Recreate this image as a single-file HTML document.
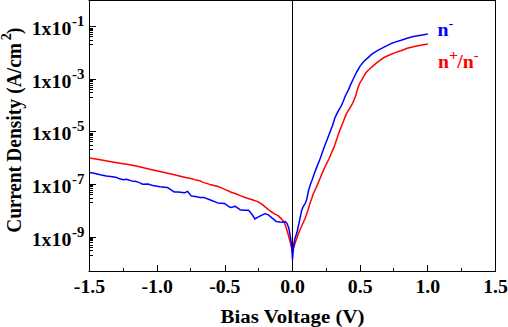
<!DOCTYPE html>
<html><head><meta charset="utf-8"><style>
html,body{margin:0;padding:0;background:#fff;overflow:hidden;width:508px;height:327px;}
svg{display:block;}
text{font-family:"Liberation Serif",serif;font-weight:bold;font-size:18px;fill:#000;}
.sup{font-size:14.5px;}
</style></head><body>
<svg width="508" height="327" viewBox="0 0 508 327">
<rect x="0" y="0" width="508" height="327" fill="#fff"/>
<path d="M292.5,0V272" stroke="#000" stroke-width="1" fill="none"/>
<polyline points="89.5,158.0 100.2,159.8 112.5,161.9 120.0,163.2 129.8,164.8 138.3,166.6 145.7,168.2 153.0,169.9 160.0,171.4 172.2,174.2 184.5,177.2 193.0,179.1 196.0,180.1 199.7,180.7 202.4,182.1 209.8,184.4 217.1,186.2 220.8,187.6 226.0,189.9 231.2,192.3 235.8,193.7 240.3,195.6 245.9,197.8 252.2,199.8 257.2,201.4 261.8,204.2 266.3,207.8 270.9,211.5 275.5,214.3 278.1,215.6 281.4,218.9 284.2,222.2 286.4,228.3 288.0,233.8 289.7,240.0 292.4,251.0 297.9,235.0 299.8,230.2 302.5,224.3 305.0,218.8 308.0,210.0 310.1,202.9 311.8,198.3 313.3,193.8 315.4,189.2 317.5,184.6 319.4,180.0 323.3,170.6 329.2,158.3 334.4,146.1 336.5,140.0 339.7,130.6 341.6,126.0 344.3,118.9 346.6,113.4 349.9,107.9 352.6,103.3 354.2,99.5 355.5,96.3 357.0,91.0 358.8,85.5 360.2,82.3 362.0,79.6 363.8,76.2 366.1,72.5 369.3,69.3 372.9,66.1 376.6,62.9 380.0,60.4 384.5,57.2 390.6,54.5 396.0,52.4 401.1,50.7 407.2,48.2 413.3,46.8 419.5,45.4 427.8,44.0" fill="none" stroke="#f00" stroke-width="1.5" stroke-linejoin="round"/>
<polyline points="89.5,172.6 94.1,173.2 100.2,174.7 106.3,175.9 112.5,176.7 116.5,177.4 118.5,178.4 123.5,179.7 126.3,179.3 131.8,180.9 136.3,181.6 140.0,182.9 142.8,184.3 148.0,184.0 153.0,185.6 160.0,186.7 167.3,187.4 174.1,191.9 178.3,191.9 184.5,192.8 187.5,191.3 191.2,195.9 195.5,196.6 200.0,197.5 204.3,197.6 209.8,199.8 217.7,202.9 224.5,203.4 229.4,207.0 231.8,207.4 234.9,206.2 240.0,209.7 243.7,210.2 248.6,210.2 252.1,214.4 254.9,219.0 257.5,217.4 259.9,216.1 265.0,213.6 268.2,214.7 271.9,217.9 276.4,221.6 280.0,222.0 282.3,222.2 285.1,221.5 286.9,223.3 288.7,227.8 289.6,232.3 290.6,237.9 291.5,244.0 292.5,259.5 293.8,244.0 295.1,237.9 297.0,232.3 298.5,225.5 300.0,218.3 301.6,210.8 303.0,206.9 305.3,203.3 306.7,199.6 307.6,195.0 308.9,189.2 310.4,184.6 312.1,180.0 315.4,170.6 320.3,158.3 324.6,146.1 327.0,140.0 330.6,130.6 332.4,126.0 335.2,117.1 337.9,111.6 341.1,106.1 343.4,101.0 345.3,96.0 348.3,90.1 350.6,84.6 352.8,80.0 356.4,72.5 360.1,66.1 363.8,61.5 368.3,57.4 372.2,53.9 378.3,50.2 384.5,46.9 390.6,43.8 395.0,42.1 401.1,40.3 407.2,38.2 413.3,36.6 419.5,35.4 427.8,33.9" fill="none" stroke="#00f" stroke-width="1.5" stroke-linejoin="round"/>
<path d="M89,26.5H96M89,28.5H93M89,29.5H93M89,30.5H93M89,32.5H93M89,34.5H93M89,36.5H93M89,40.5H93M89,44.5H93M89,79.5H96M89,80.5H93M89,81.5H93M89,83.5H93M89,85.5H93M89,87.5H93M89,89.5H93M89,92.5H93M89,97.5H93M89,131.5H96M89,133.5H93M89,134.5H93M89,135.5H93M89,137.5H93M89,139.5H93M89,141.5H93M89,145.5H93M89,149.5H93M89,184.5H96M89,185.5H93M89,186.5H93M89,188.5H93M89,190.5H93M89,192.5H93M89,194.5H93M89,198.5H93M89,202.5H93M89,237.5H96M89,238.5H93M89,239.5H93M89,240.5H93M89,242.5H93M89,245.5H93M89,247.5H93M89,250.5H93M89,255.5H93M123.5,272V268M157.5,272V265M190.5,272V268M225.5,272V265M258.5,272V268M326.5,272V268M360.5,272V265M393.5,272V268M427.5,272V265M461.5,272V268" stroke="#000" stroke-width="1" fill="none"/>
<path d="M88.5,0.5H496M0,0" stroke="#000" stroke-width="1" fill="none"/>
<path d="M88.5,271.5H496" stroke="#000" stroke-width="1" fill="none"/>
<path d="M89.5,0V272M495.5,0V272" stroke="#000" stroke-width="1" fill="none"/>
<g transform="translate(31.7,35) scale(1.1,1)"><text x="0" y="0">1x10</text><g transform="translate(36.599999999999994,-9) scale(0.93,1)"><text x="0" y="0" class="sup">-1</text></g></g>
<g transform="translate(31.7,87.6) scale(1.1,1)"><text x="0" y="0">1x10</text><g transform="translate(36.599999999999994,-9) scale(0.93,1)"><text x="0" y="0" class="sup">-3</text></g></g>
<g transform="translate(31.7,139.5) scale(1.1,1)"><text x="0" y="0">1x10</text><g transform="translate(36.599999999999994,-9) scale(0.93,1)"><text x="0" y="0" class="sup">-5</text></g></g>
<g transform="translate(31.7,193.25) scale(1.1,1)"><text x="0" y="0">1x10</text><g transform="translate(36.599999999999994,-9) scale(0.93,1)"><text x="0" y="0" class="sup">-7</text></g></g>
<g transform="translate(31.7,246) scale(1.1,1)"><text x="0" y="0">1x10</text><g transform="translate(36.599999999999994,-9) scale(0.93,1)"><text x="0" y="0" class="sup">-9</text></g></g>

<g transform="translate(89.5,293) scale(1.1,1)"><text x="0" y="0" text-anchor="middle">-1.5</text></g><g transform="translate(157.2,293) scale(1.1,1)"><text x="0" y="0" text-anchor="middle">-1.0</text></g><g transform="translate(224.8,293) scale(1.1,1)"><text x="0" y="0" text-anchor="middle">-0.5</text></g><g transform="translate(292.5,293) scale(1.1,1)"><text x="0" y="0" text-anchor="middle">0.0</text></g><g transform="translate(360.2,293) scale(1.1,1)"><text x="0" y="0" text-anchor="middle">0.5</text></g><g transform="translate(427.8,293) scale(1.1,1)"><text x="0" y="0" text-anchor="middle">1.0</text></g><g transform="translate(495.5,293) scale(1.1,1)"><text x="0" y="0" text-anchor="middle">1.5</text></g>
<g transform="translate(292.5,323) scale(1.1,1)"><text x="0" y="0" text-anchor="middle" style="font-size:19px">Bias Voltage (V)</text></g>
<g transform="translate(21,0) scale(1.1,1) rotate(-90)"><text x="-232.74" y="0" style="font-size:19.45px;letter-spacing:-0.18px">Current</text><text x="-161.7" y="0" style="font-size:19.45px">Density</text><text x="-93.7" y="0" style="font-size:19.45px">(A/cm</text><text x="-40.14" y="-8.9" style="font-size:14px">2</text><text x="-33.94" y="0" style="font-size:19.45px">)</text></g>
<text transform="translate(437.6,35.5) scale(1.1,1)" style="fill:#00f">n<tspan dy="-8" style="font-size:13px">-</tspan></text>
<text transform="translate(438.1,68.4) scale(1.1,1)" style="fill:#f00">n<tspan dy="-8" style="font-size:14.5px">+</tspan><tspan dx="-0.9" dy="8">/n</tspan><tspan dy="-8" style="font-size:13px">-</tspan></text>
</svg>
</body></html>
